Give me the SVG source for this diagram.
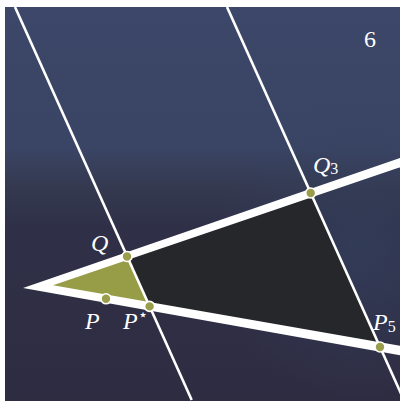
<svg xmlns="http://www.w3.org/2000/svg" width="400" height="401" viewBox="0 0 400 401">
  <defs>
    <linearGradient id="bg" x1="0" y1="7" x2="0" y2="401" gradientUnits="userSpaceOnUse">
      <stop offset="0" stop-color="#3c4769"/>
      <stop offset="0.36" stop-color="#3a4464"/>
      <stop offset="0.46" stop-color="#34394f"/>
      <stop offset="0.56" stop-color="#2f3048"/>
      <stop offset="1" stop-color="#2e2c41"/>
    </linearGradient>
    <radialGradient id="tint" cx="360" cy="250" r="150" gradientUnits="userSpaceOnUse">
      <stop offset="0" stop-color="#34405e" stop-opacity="0.7"/>
      <stop offset="1" stop-color="#34405e" stop-opacity="0"/>
    </radialGradient>
    <clipPath id="area"><rect x="5" y="7" width="395" height="394"/></clipPath>
  </defs>
  <style>
    .lbl { font-family: "Liberation Serif", "DejaVu Serif", serif; fill: #ffffff; font-size: 24px; }
    .it { font-style: italic; }
    .sub { font-size: 16px; font-style: normal; }
    .pline { stroke: #ffffff; stroke-width: 2.6; fill: none; }
    .dot { fill: #9a9e4a; stroke: #ffffff; stroke-width: 1.6; }
  </style>
  <rect x="0" y="0" width="400" height="401" fill="#ffffff"/>
  <rect x="5" y="7" width="395" height="394" fill="url(#bg)"/>
  <rect x="5" y="7" width="395" height="394" fill="url(#tint)"/>
  <g id="figure" clip-path="url(#area)">
    <g id="regions">
      <polygon id="olive" points="40,286.5 127,256.5 149.6,306.4" fill="#979c47"/>
      <polygon id="quad" points="127,256.5 310.7,193.2 380,347.1 149.6,306.4" fill="#25272b"/>
    </g>
    <g id="connectors">
      <line class="pline" x1="15" y1="7" x2="191.7" y2="400"/>
      <line class="pline" x1="227" y1="7" x2="403.9" y2="400"/>
      <path id="wedge" fill="#ffffff" fill-rule="evenodd" d="M23,288 L400,158.1 L400,355.2 Z M53,285.3 L400,167.2 L400,345.8 Z"/>
    </g>
    <g id="points">
      <circle id="Q" class="dot" cx="127" cy="256.5" r="5"/>
      <circle id="P" class="dot" cx="106" cy="298.8" r="5"/>
      <circle id="Pstar" class="dot" cx="149.6" cy="306.4" r="5"/>
      <circle id="Q3" class="dot" cx="310.7" cy="193" r="5"/>
      <circle id="P5" class="dot" cx="380" cy="347" r="5"/>
    </g>
  </g>
  <g id="labels">
    <text class="lbl" x="364" y="47">6</text>
    <text class="lbl it" x="91" y="251">Q</text>
    <text class="lbl it" x="85" y="329">P</text>
    <text class="lbl it" x="123" y="329">P<tspan class="sub" dy="-9" font-size="13">⋆</tspan></text>
    <text class="lbl it" x="313" y="173">Q<tspan class="sub" dy="1">3</tspan></text>
    <text class="lbl it" x="373" y="330">P<tspan class="sub" dy="2">5</tspan></text>
  </g>
</svg>
